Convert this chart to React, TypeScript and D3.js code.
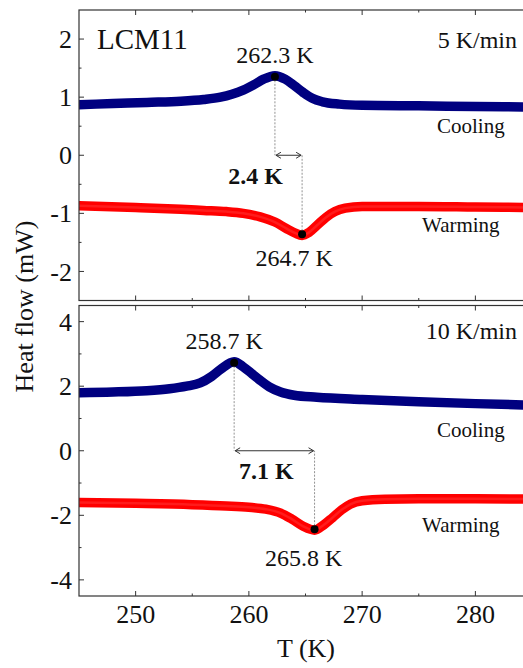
import * as d3 from 'd3';

// temperature grid + heat flow (mW)
const coolT5 = [245, 248, 251, 254, 256, 257.5, 258.5, 259.5, 260.5, 261.3, 262.3, 263.2, 264, 264.8, 265.6, 266.5, 268, 270, 275, 280, 285];
const cool5 = [0.87, 0.89, 0.91, 0.93, 0.96, 1.0, 1.05, 1.12, 1.22, 1.31, 1.37, 1.31, 1.2, 1.08, 0.98, 0.92, 0.88, 0.86, 0.85, 0.84, 0.83];

const warmT5 = [245, 250, 254, 256, 258, 259.5, 261, 262.3, 263.3, 264.1, 264.7, 265.3, 266, 266.8, 267.6, 268.5, 270, 275, 280, 285];
const warm5 = [-0.87, -0.9, -0.93, -0.95, -0.97, -1.0, -1.06, -1.15, -1.26, -1.34, -1.38, -1.33, -1.21, -1.07, -0.97, -0.91, -0.88, -0.88, -0.89, -0.9];

const coolT10 = [245, 248, 251, 253, 254.5, 255.7, 256.7, 257.5, 258.7, 259.5, 260.3, 261, 261.8, 262.8, 264, 266, 270, 275, 280, 285];
const cool10 = [1.8, 1.82, 1.86, 1.92, 2.0, 2.1, 2.3, 2.52, 2.76, 2.6, 2.38, 2.18, 1.98, 1.82, 1.72, 1.66, 1.59, 1.52, 1.46, 1.41];

const warmT10 = [245, 250, 255, 258, 260, 261.5, 262.8, 263.8, 264.8, 265.8, 266.6, 267.4, 268.2, 269, 270, 272, 275, 280, 285];
const warm10 = [-1.6, -1.63, -1.67, -1.71, -1.75, -1.81, -1.93, -2.12, -2.34, -2.46, -2.3, -2.07, -1.83, -1.65, -1.55, -1.5, -1.49, -1.49, -1.5];

// transition peaks [T, heat flow] and hysteresis labels
const peaks5 = { cool: [262.3, 1.35], warm: [264.7, -1.36], delta: '2.4 K', rate: '5 K/min' };
const peaks10 = { cool: [258.7, 2.73], warm: [265.8, -2.43], delta: '7.1 K', rate: '10 K/min' };

const xTicks = [250, 260, 270, 280];
const xMinor = [255, 265, 275, 285];
const yTicks5 = [-2, -1, 0, 1, 2];
const yTicks10 = [-4, -2, 0, 2, 4];

const W = 523;
const H = 668;
const FONT = '"Liberation Serif", "Times New Roman", serif';
const BLUE = '#000080';
const RED = '#ff0000';
const AXIS = '#333';

const x = d3.scaleLinear().domain([245, 285]).range([79, 532]);

function zip(ts: number[], vs: number[]): [number, number][] {
  return ts.map((t, i) => [t, vs[i]]);
}

interface PanelProps {
  id: string;
  y: d3.ScaleLinear<number, number>;
  yTicks: number[];
  yMinor: number[];
  cool: [number, number][];
  warm: [number, number][];
  peaks: typeof peaks5;
  lab: {
    cool: [number, number];
    warm: [number, number];
    delta: [number, number];
    rateY: number;
    coolingY: number;
    warmingY: number;
  };
  children?: any;
}

function Panel({ id, y, yTicks, yMinor, cool, warm, peaks, lab, children }: PanelProps) {
  const [x0, x1] = x.range();
  const [y0, y1] = y.range();
  const line = d3
    .line<[number, number]>()
    .x((d) => x(d[0]))
    .y((d) => y(d[1]))
    .curve(d3.curveMonotoneX);

  const cx = x(peaks.cool[0]);
  const cy = y(peaks.cool[1]);
  const wx = x(peaks.warm[0]);
  const wy = y(peaks.warm[1]);
  const ay = y(0);
  const ah = 6;

  return (
    <g>
      <defs>
        <clipPath id={id}>
          <rect x={x0} y={y1} width={x1 - x0} height={y0 - y1} />
        </clipPath>
      </defs>
      <g clipPath={`url(#${id})`}>
        <path d={line(cool) || ''} fill="none" stroke={BLUE} strokeWidth={9.5} strokeLinecap="round" />
        <path d={line(warm) || ''} fill="none" stroke={RED} strokeWidth={9.5} strokeLinecap="round" />
        <path d={line(warm) || ''} fill="none" stroke="#ff5050" strokeWidth={2.5} opacity={0.35} />
      </g>

      {/* dotted drop lines and hysteresis arrow */}
      <line x1={cx} x2={cx} y1={cy} y2={ay} stroke="#777" strokeWidth={0.8} strokeDasharray="2,1.5" />
      <line x1={wx} x2={wx} y1={wy} y2={ay} stroke="#777" strokeWidth={0.8} strokeDasharray="2,1.5" />
      <line x1={cx + 1} x2={wx - 1} y1={ay} y2={ay} stroke={AXIS} strokeWidth={1} />
      <path
        d={`M${cx + ah},${ay - 3}L${cx + 1},${ay}L${cx + ah},${ay + 3}M${wx - ah},${ay - 3}L${wx - 1},${ay}L${wx - ah},${ay + 3}`}
        fill="none"
        stroke={AXIS}
        strokeWidth={1}
      />
      <circle cx={cx} cy={cy} r={4} fill="#000" />
      <circle cx={wx} cy={wy} r={4} fill="#000" />

      <g fontFamily={FONT} fill="#111">
        <text x={cx + lab.cool[0]} y={cy + lab.cool[1]} fontSize={24} textAnchor="middle">
          {peaks.cool[0].toFixed(1)} K
        </text>
        <text x={wx + lab.warm[0]} y={wy + lab.warm[1]} fontSize={24} textAnchor="middle">
          {peaks.warm[0].toFixed(1)} K
        </text>
        <text
          x={(cx + wx) / 2 + lab.delta[0]}
          y={ay + lab.delta[1]}
          fontSize={24}
          fontWeight="bold"
          textAnchor="middle"
        >
          {peaks.delta}
        </text>
        <text x={517} y={lab.rateY} fontSize={24} textAnchor="end">
          {peaks.rate}
        </text>
        <text x={437} y={lab.coolingY} fontSize={21}>
          Cooling
        </text>
        <text x={422} y={lab.warmingY} fontSize={21}>
          Warming
        </text>
        {children}
      </g>

      {/* frame */}
      <rect x={x0} y={y1} width={x1 - x0} height={y0 - y1} fill="none" stroke={AXIS} strokeWidth={1.2} />

      {/* ticks, all pointing inward */}
      <g stroke={AXIS} strokeWidth={1}>
        {xTicks.map((t) => (
          <g key={'x' + t}>
            <line x1={x(t)} x2={x(t)} y1={y0} y2={y0 - 5} />
            <line x1={x(t)} x2={x(t)} y1={y1} y2={y1 + 5} />
          </g>
        ))}
        {xMinor.map((t) => (
          <g key={'xm' + t}>
            <line x1={x(t)} x2={x(t)} y1={y0} y2={y0 - 2.5} />
            <line x1={x(t)} x2={x(t)} y1={y1} y2={y1 + 2.5} />
          </g>
        ))}
        {yTicks.map((v) => (
          <line key={'y' + v} x1={x0} x2={x0 + 5} y1={y(v)} y2={y(v)} />
        ))}
        {yMinor.map((v) => (
          <line key={'ym' + v} x1={x0} x2={x0 + 2.5} y1={y(v)} y2={y(v)} />
        ))}
      </g>
      <g fontFamily={FONT} fontSize={26} fill="#111" textAnchor="end">
        {yTicks.map((v) => (
          <text key={v} x={72} y={y(v)} dy="0.35em">
            {v < 0 ? '-' + Math.abs(v) : String(v)}
          </text>
        ))}
      </g>
    </g>
  );
}

export default function App() {
  const yTop = d3.scaleLinear().domain([-2.5, 2.5]).range([300.5, 10]);
  const yBot = d3.scaleLinear().domain([-4.5, 4.5]).range([596, 305.5]);

  return (
    <svg
      width={W}
      height={H}
      viewBox={`0 0 ${W} ${H}`}
      style={{ position: 'absolute', left: 0, top: 0, background: '#fff' }}
    >
      <Panel
        id="clip-top"
        y={yTop}
        yTicks={yTicks5}
        yMinor={[-1.5, -0.5, 0.5, 1.5]}
        cool={zip(coolT5, cool5)}
        warm={zip(warmT5, warm5)}
        peaks={peaks5}
        lab={{ cool: [0, -14], warm: [-8, 32], delta: [-33, 29], rateY: 48, coolingY: 133, warmingY: 232 }}
      >
        <text x={97} y={49} fontSize={29}>
          LCM11
        </text>
      </Panel>
      <Panel
        id="clip-bot"
        y={yBot}
        yTicks={yTicks10}
        yMinor={[-3, -1, 1, 3]}
        cool={zip(coolT10, cool10)}
        warm={zip(warmT10, warm10)}
        peaks={peaks10}
        lab={{ cool: [-10, -14], warm: [-11, 37], delta: [-8, 28], rateY: 339, coolingY: 437, warmingY: 532 }}
      />

      <g fontFamily={FONT} fontSize={26} fill="#111" textAnchor="middle">
        {xTicks.map((t) => (
          <text key={t} x={x(t)} y={623}>
            {t}
          </text>
        ))}
        <text x={306} y={657}>
          T (K)
        </text>
        <text transform="translate(33,306.5) rotate(-90)">Heat flow (mW)</text>
      </g>
    </svg>
  );
}
